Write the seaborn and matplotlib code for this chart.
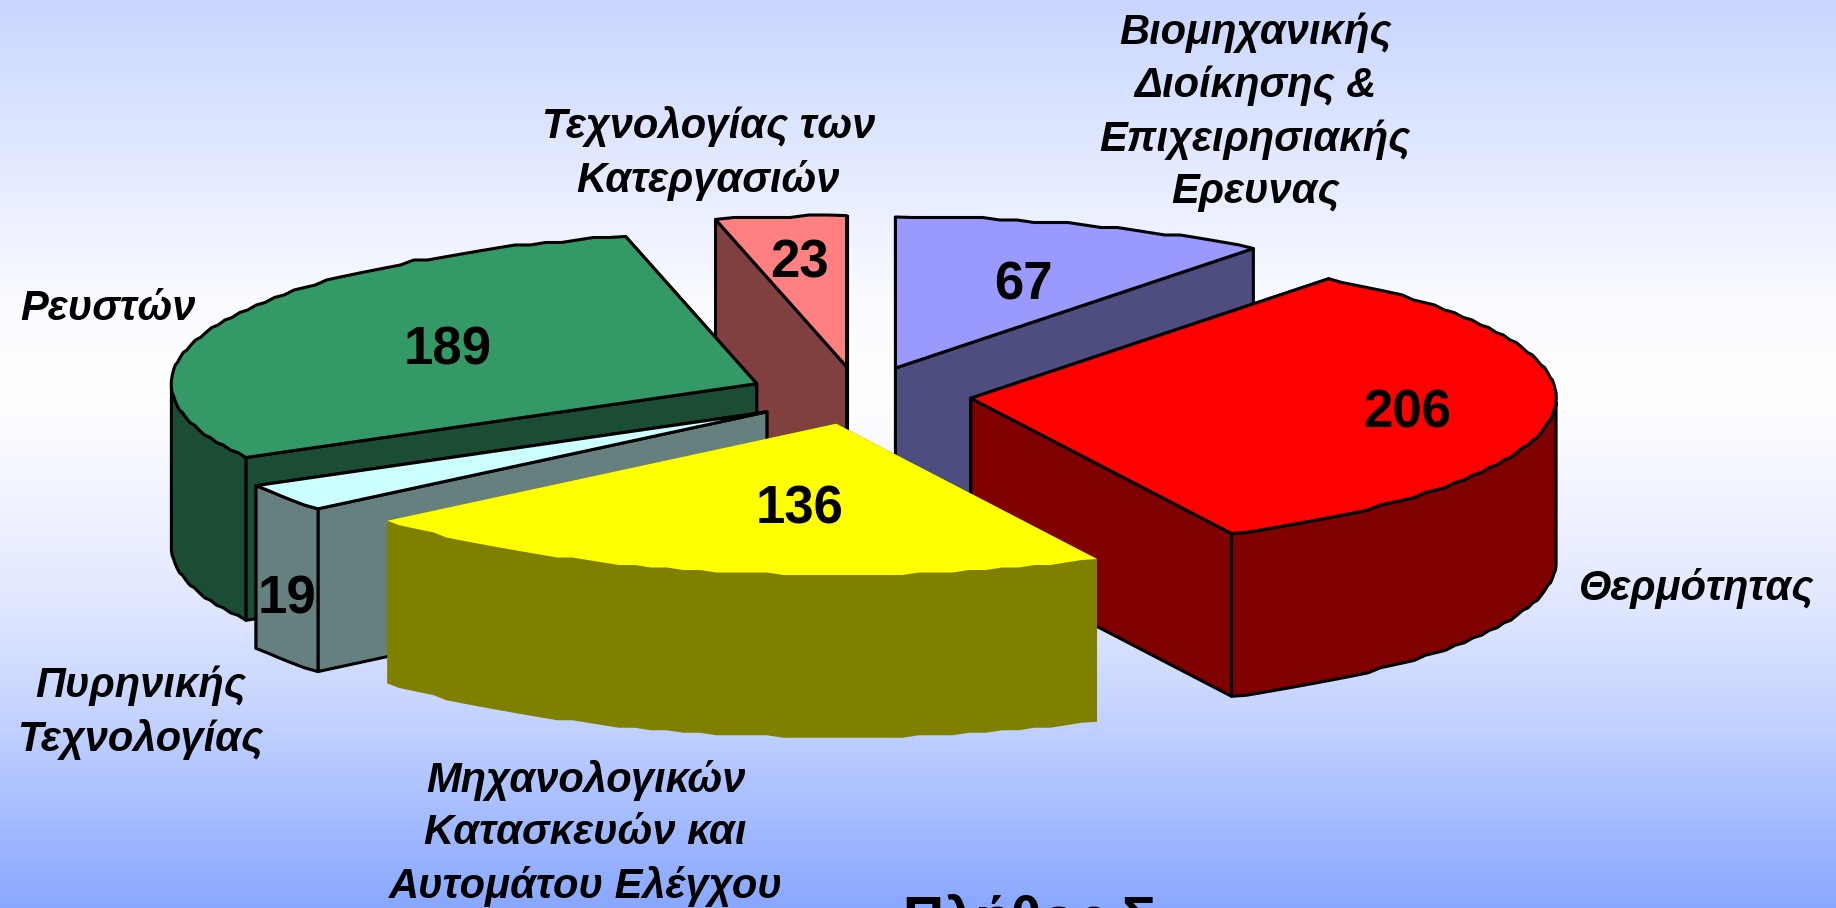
import numpy as np
import seaborn as sns
import matplotlib
matplotlib.use("Agg")
import matplotlib.pyplot as plt
from matplotlib.colors import LinearSegmentedColormap

# tomeis, clockwise from the top
tomeis = ["Βιομηχανικής\nΔιοίκησης &\nΕπιχειρησιακής\nΕρευνας", "Θερμότητας",
          "Μηχανολογικών\nΚατασκευών και\nΑυτομάτου Ελέγχου", "Πυρηνικής\nΤεχνολογίας",
          "Ρευστών", "Τεχνολογίας των\nΚατεργασιών"]
plithos = [67, 206, 136, 19, 189, 23]
xromata = ["#9999FF", "#FF0000", "#FFFF00", "#CCFFFF", "#339966", "#FF8080"]
titlos = "Πλήθος Σ"

# geometry in reference pixels
W, H = 1836, 908
k = W / 1568
cx, cy = 733.8 * k, 337.7 * k
rx, ry = 500 * k, 129 * k
explode = 0.1916
depth = 139 * k

sns.set_style("white")
plt.rcParams['font.family'] = ['Liberation Sans', 'DejaVu Sans']
plt.rcParams['text.color'] = 'black'

fig = plt.figure(figsize=(W / 100, H / 100), dpi=100)
ax = fig.add_axes([0, 0, 1, 1])
ax.set_xlim(0, W)
ax.set_ylim(H, 0)
ax.axis('off')

fondo = LinearSegmentedColormap.from_list("fondo", [
    (0, "#C9D6FF"), (0.33, "#FAFBFF"), (0.44, "#FFFFFF"), (0.66, "#E2E8FF"),
    (0.79, "#C4D3FF"), (1, "#8AA8FF")])
ax.imshow(np.linspace(0, 1, 400).reshape(-1, 1), cmap=fondo, extent=(0, W, H, 0), aspect='auto', zorder=0)

ends = 90 - np.cumsum(plithos) / np.sum(plithos) * 360
starts = np.r_[90, ends[:-1]]
geo = {}
for i, v in enumerate(plithos):
    mid = np.radians((starts[i] + ends[i]) / 2)
    geo[i] = (cx + explode * rx * np.cos(mid), cy - explode * ry * np.sin(mid))


def rim(i):
    # the original rim is slightly stepped, so snap the inner points to a small grid
    n = max(3, int((starts[i] - ends[i]) / 1.6))
    t = np.radians(np.linspace(starts[i], ends[i], n))
    ax0, ay0 = geo[i]
    x = ax0 + rx * np.cos(t)
    y = ay0 - ry * np.sin(t)
    y[1:-1] = np.round(y[1:-1] / 2.5) * 2.5
    return x, y


def slice_3d(i, z, lw=2.2):
    top = xromata[i]
    dark = tuple(c / 2 for c in sns.color_palette([top])[0])
    ec = 'black' if lw else 'none'
    x, y = rim(i)
    ax0, ay0 = geo[i]
    # cut faces, the one further back first
    faces = sorted([(x[0], y[0]), (x[-1], y[-1])], key=lambda p: p[1])
    for fx, fy in faces:
        ax.fill([ax0, fx, fx, ax0], [ay0, fy, fy + depth, ay0 + depth], fc=dark, ec=ec, lw=lw,
                joinstyle='round', zorder=z)
    # outer wall, only the front half of the arc shows
    front = (y >= ay0)
    if front.sum() > 1:
        fx, fy = x[front], y[front]
        ax.fill(np.r_[fx, fx[::-1]], np.r_[fy, fy[::-1] + depth], fc=dark, ec=ec, lw=lw,
                joinstyle='round', zorder=z)
    ax.fill(np.r_[ax0, x], np.r_[ay0, y], fc=top, ec=ec, lw=lw, joinstyle='round', zorder=z + 0.1)


# back to front
for z, i in enumerate([5, 0, 4, 3, 1]):
    slice_3d(i, z + 1)
slice_3d(2, 7, lw=0)

# value labels
val_pos = [(874, 244), (1202, 353), (683, 435), (245, 512), (382, 299), (683, 225)]
for v, (px, py) in zip(plithos, val_pos):
    ax.text(px * k, py * k, str(v), fontsize=38, fontweight='bold', ha='center', va='center', zorder=10)

# sector names
name_pos = [(1072, 96), (1449, 503), (500, 712), (120, 609), (92, 264), (605, 131)]
for name, (px, py) in zip(tomeis, name_pos):
    ax.text(px * k, py * k, name, fontsize=30, fontweight='bold', fontstyle='italic', ha='center', va='center',
            linespacing=1.4, zorder=10)

# the title runs off the bottom edge, as in the reference
ax.text(903, 937, titlos, fontsize=41, fontweight='bold', ha='left', va='baseline', zorder=10)

sns.despine(left=True, bottom=True)
fig.savefig("out.png", dpi=100)
